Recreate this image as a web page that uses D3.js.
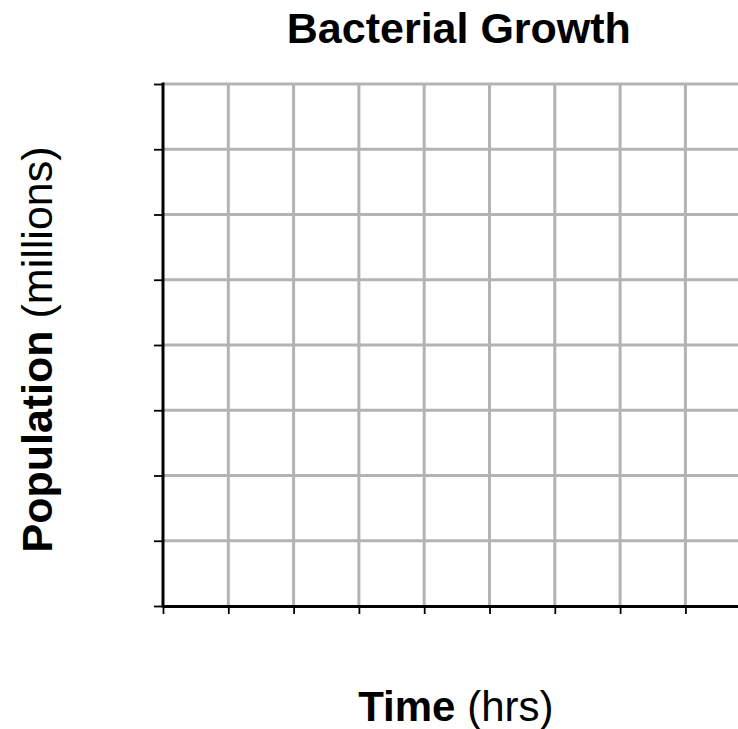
<!DOCTYPE html>
<html>
<head>
<meta charset="utf-8">
<script src="https://cdn.jsdelivr.net/npm/d3@7"></script>
<style>
  html, body { margin: 0; padding: 0; background: #fff; }
  svg { display: block; font-family: "Liberation Sans", Arial, Helvetica, sans-serif; }
</style>
</head>
<body>
<div id="chart"></div>
<script>
// blank graph paper: time on x, population on y
const xTicks = [0, 1, 2, 3, 4, 5, 6, 7, 8, 9];
const yTicks = [0, 1, 2, 3, 4, 5, 6, 7, 8];
const title = "Bacterial Growth";
const xLabel = ["Time", " (hrs)"];
const yLabel = ["Population", " (millions)"];

const W = 738, H = 729;
const margin = { top: 84, left: 163, bottom: 123 };
const cell = 65.3;

const svg = d3.select("#chart").append("svg")
  .attr("width", W)
  .attr("height", H);

// plot runs a little past the right edge of the window
const x = d3.scaleLinear()
  .domain([xTicks[0], xTicks[xTicks.length - 1]])
  .range([margin.left, margin.left + cell * (xTicks.length - 1)]);
const y = d3.scaleLinear()
  .domain([yTicks[0], yTicks[yTicks.length - 1]])
  .range([H - margin.bottom, margin.top]);

const grid = svg.append("g").attr("class", "grid")
  .attr("stroke", "#b3b3b3")
  .attr("stroke-width", 3);

grid.selectAll(".v").data(xTicks.slice(1)).join("line")
  .attr("class", "v")
  .attr("x1", d => x(d)).attr("x2", d => x(d))
  .attr("y1", y.range()[1]).attr("y2", y.range()[0]);

grid.selectAll(".h").data(yTicks.slice(1)).join("line")
  .attr("class", "h")
  .attr("x1", x.range()[0]).attr("x2", x.range()[1])
  .attr("y1", d => y(d)).attr("y2", d => y(d));

// axes
const xAxis = svg.append("g")
  .attr("transform", `translate(0,${y(0)})`)
  .call(d3.axisBottom(x).tickValues(xTicks).tickSize(8).tickSizeOuter(0).tickFormat(""));
const yAxis = svg.append("g")
  .attr("transform", `translate(${x(0)},0)`)
  .call(d3.axisLeft(y).tickValues(yTicks).tickSize(9).tickSizeOuter(0).tickFormat(""));

[xAxis, yAxis].forEach(a => {
  a.select(".domain").attr("stroke", "#000").attr("stroke-width", 3);
  a.selectAll(".tick line").attr("stroke", "#000").attr("stroke-width", 1.8);
});
yAxis.select(".domain").attr("d", `M0,${y(0) + 1.5}V${y.range()[1] - 1.5}`);

const cx = (x.range()[0] + x.range()[1]) / 2;

svg.append("text")
  .attr("x", cx + 2)
  .attr("y", 43)
  .attr("text-anchor", "middle")
  .attr("font-size", 43)
  .attr("font-weight", "bold")
  .text(title);

const xl = svg.append("text")
  .attr("x", cx - 1)
  .attr("y", 721)
  .attr("text-anchor", "middle")
  .attr("font-size", 42);
xl.append("tspan").attr("font-weight", "bold").text(xLabel[0]);
xl.append("tspan").text(xLabel[1]);

const yl = svg.append("text")
  .attr("transform", "translate(52,349.5) rotate(-90)")
  .attr("text-anchor", "middle")
  .attr("font-size", 43);
yl.append("tspan").attr("font-weight", "bold").text(yLabel[0]);
yl.append("tspan").text(yLabel[1]);
</script>
</body>
</html>
